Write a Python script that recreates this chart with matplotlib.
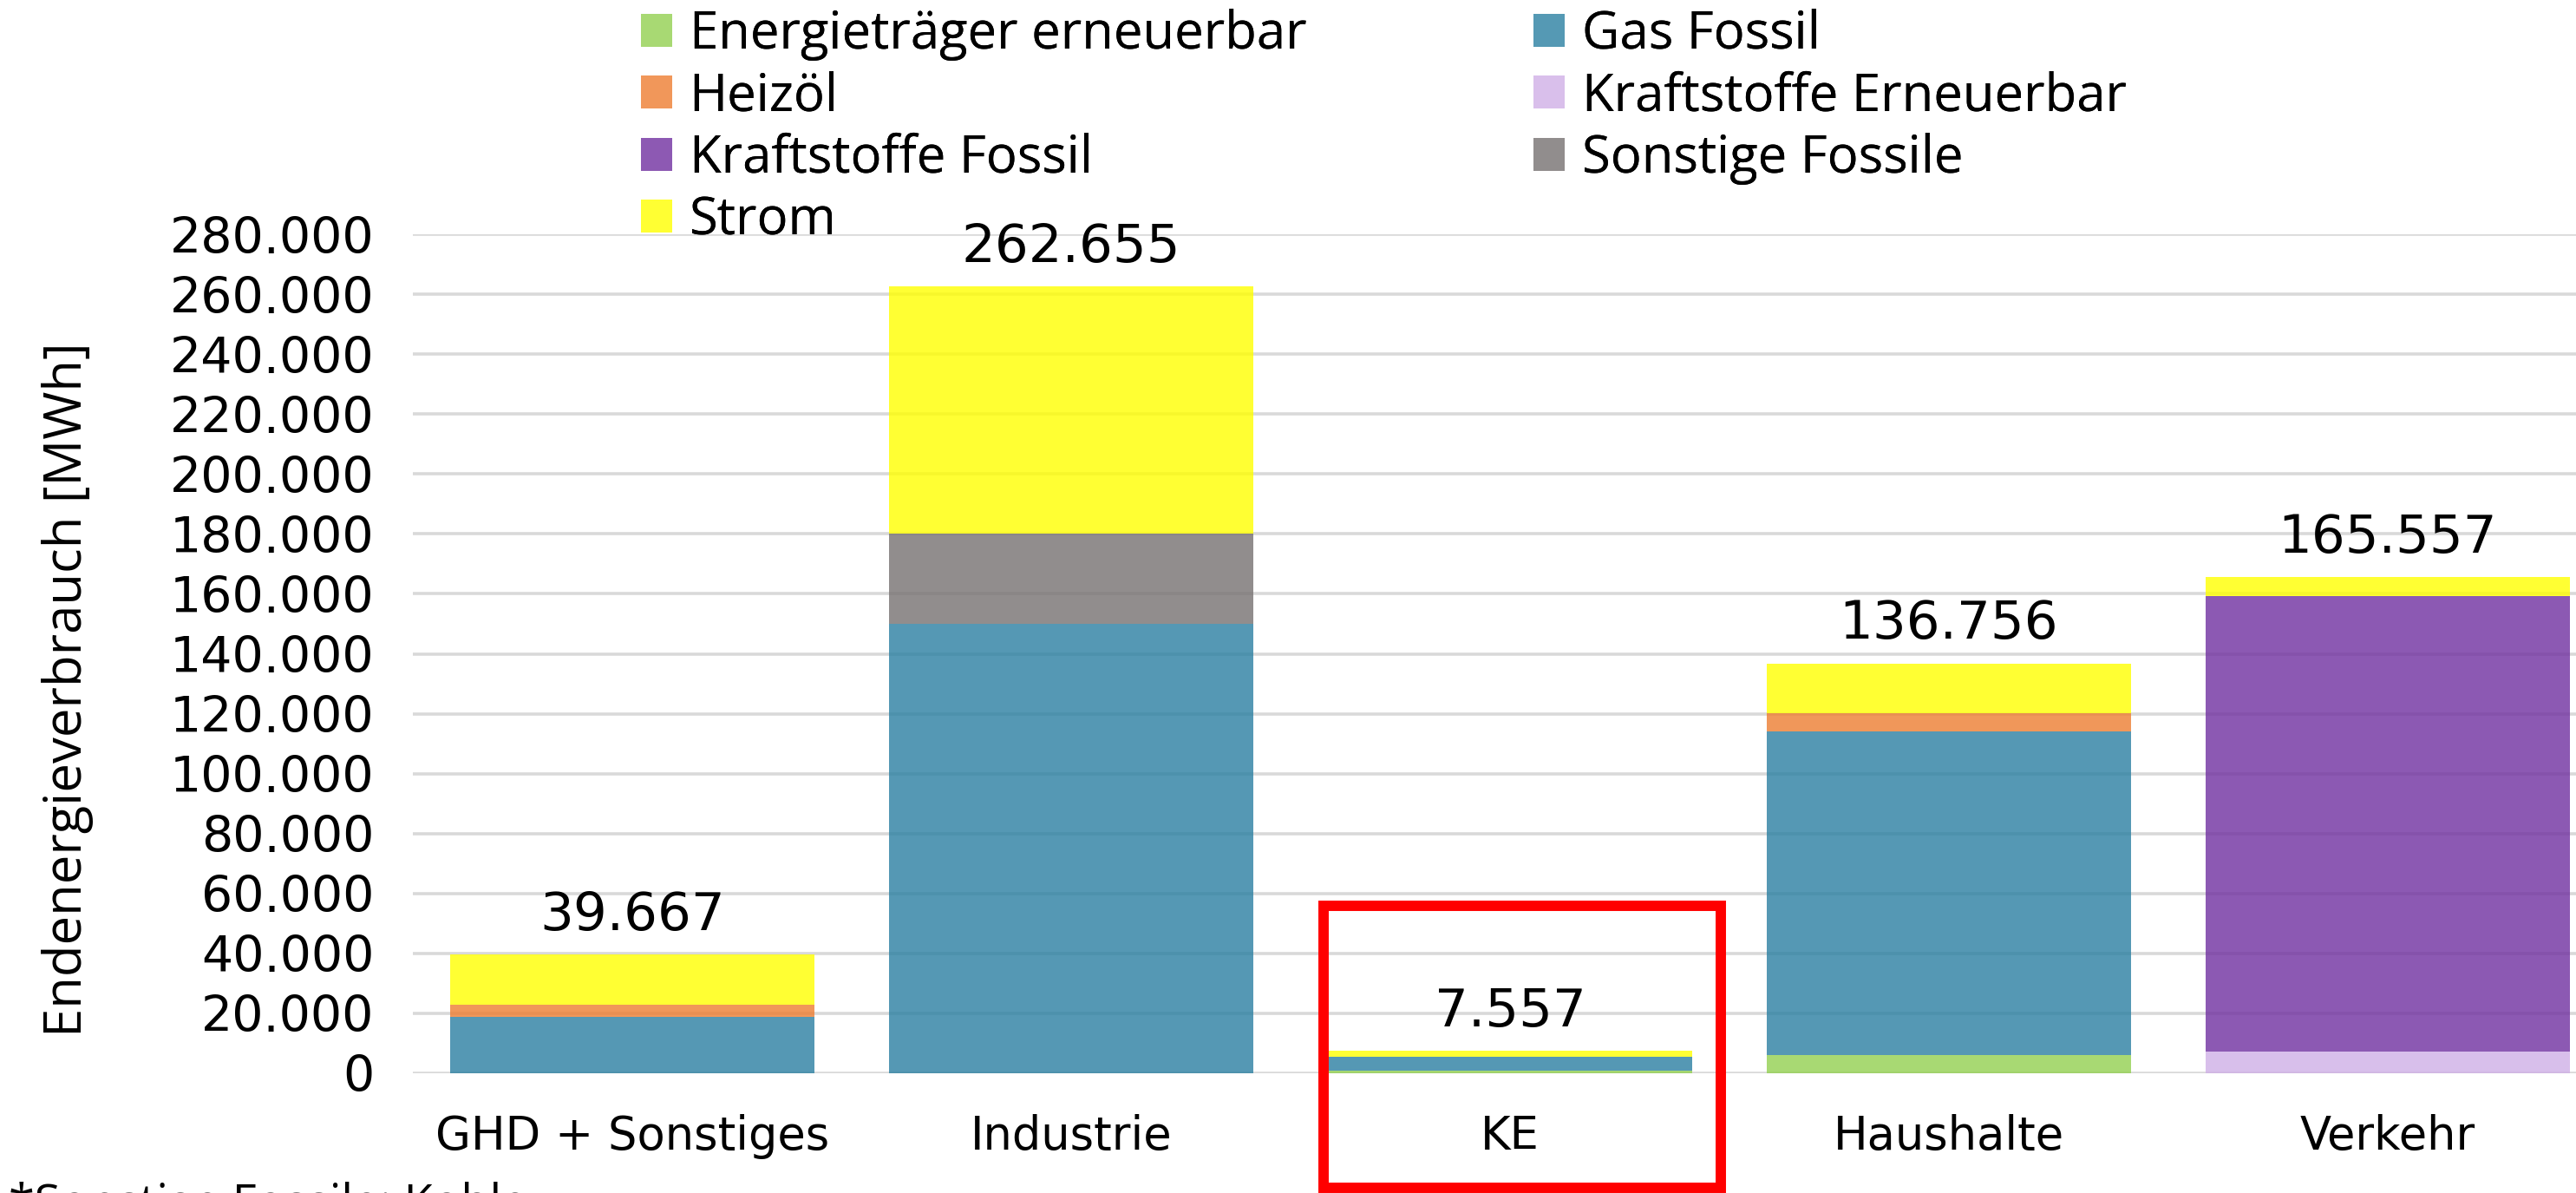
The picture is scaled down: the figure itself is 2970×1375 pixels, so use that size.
"""Endenergieverbrauch nach Sektor, gestapelt nach Energieträger.

Run ``python3 plot.py``.  Writes out.png (2970 x 1375 px).
"""
import matplotlib
matplotlib.use("Agg")
import matplotlib.pyplot as plt
from matplotlib.colors import to_rgb
from matplotlib.patches import Patch, Rectangle
import numpy as np

SECTORS = ["GHD + Sonstiges", "Industrie", "KE", "Haushalte", "Verkehr"]
CARRIERS = ["Energieträger erneuerbar", "Gas Fossil", "Heizöl",
            "Kraftstoffe Erneuerbar", "Kraftstoffe Fossil", "Sonstige Fossile",
            "Strom"]

# MWh per sector
ENERGIETRAEGER_ERNEUERBAR = [0, 0, 800, 6100, 0]
GAS_FOSSIL = [18800, 150000, 4600, 107900, 0]
HEIZOEL = [4100, 0, 0, 6100, 0]
KRAFTSTOFFE_ERNEUERBAR = [0, 0, 0, 0, 7200]
KRAFTSTOFFE_FOSSIL = [0, 0, 0, 0, 152200]
SONSTIGE_FOSSILE = [0, 30000, 0, 0, 0]
STROM = [16767, 82655, 2157, 16656, 6157]

SERIES = [ENERGIETRAEGER_ERNEUERBAR, GAS_FOSSIL, HEIZOEL, KRAFTSTOFFE_ERNEUERBAR,
          KRAFTSTOFFE_FOSSIL, SONSTIGE_FOSSILE, STROM]
COLOURS = ["#92D050", "#2A7FA1", "#ED7D31", "#CFAFE6", "#7030A0", "#767171",
           "#FFFF00"]
Y_TICKS = list(range(0, 280001, 20000))
HIGHLIGHT = "KE"
FOOTNOTE = "*Sonstige Fossile: Kohle"

W, H = 2970, 1375
ALPHA = 0.8
LEGEND_FONT = ["Open Sans", "DejaVu Sans"]


def thousands(value):
    return f"{value:,.0f}".replace(",", ".")


def on_white(colour):
    """The bar colour as it shows over white, for the legend swatches."""
    return tuple(ALPHA*c + (1 - ALPHA) for c in to_rgb(colour))


def main():
    fig = plt.figure(figsize=(W/100, H/100), dpi=100)
    ax = fig.add_axes([476/W, 1 - 1237/H, 2530/W, (1237 - 270)/H])

    positions = np.arange(len(SECTORS))
    bottom = np.zeros(len(SECTORS))
    containers = []
    for label, values, colour in zip(CARRIERS, SERIES, COLOURS):
        values = np.asarray(values, dtype=float)
        bars = ax.bar(positions, values, 0.83, bottom=bottom, color=colour,
                      alpha=ALPHA, label=label, zorder=2, linewidth=0)
        containers.append(bars)
        bottom += values

    ax.bar_label(containers[-1], labels=[thousands(t) for t in bottom],
                 padding=11, fontsize=44, color="black")

    ax.set_xlim(-0.5, len(SECTORS) - 0.5)
    ax.set_ylim(0, 280000)
    ax.set_yticks(Y_TICKS)
    ax.set_yticklabels([thousands(t) for t in Y_TICKS], fontsize=41)
    ax.set_xticks(positions)
    ax.set_xticklabels(SECTORS, fontsize=38)
    ax.tick_params(axis="both", length=0)
    ax.tick_params(axis="y", pad=32)
    ax.tick_params(axis="x", pad=34)
    ax.grid(axis="y", color="#D9D9D9", lw=2.6, zorder=0)
    ax.set_axisbelow(True)
    for spine in ax.spines.values():
        spine.set_visible(False)

    ax.set_ylabel("Endenergieverbrauch [MWh]", fontsize=43, family=LEGEND_FONT,
                  va="center")
    ax.yaxis.set_label_coords((78 - 476)/2530, (1237 - 795)/(1237 - 270))

    # red frame around the highlighted sector
    k = SECTORS.index(HIGHLIGHT)
    ax.add_patch(Rectangle((k - 0.425, -38200), 0.905, 94100, fill=False,
                           edgecolor="#FF0000", lw=8.6, clip_on=False, zorder=5))

    handles = [Patch(facecolor=on_white(c), linewidth=0) for c in COLOURS]
    columns = ([0, 2, 4, 6], [1, 3, 5])
    for anchor_x, idx in zip((739/W, 1768/W), columns):
        leg = fig.legend([handles[i] for i in idx], [CARRIERS[i] for i in idx],
                         loc="upper left", bbox_to_anchor=(anchor_x, 1 - 10/H),
                         frameon=False, borderpad=0, borderaxespad=0,
                         handlelength=0.6, handleheight=0.6,
                         handletextpad=0.33, labelspacing=0.19,
                         prop=dict(family=LEGEND_FONT, size=43))
        fig.add_artist(leg)

    fig.text(10/W, 1 - 1362/H, FOOTNOTE, fontsize=39, family=LEGEND_FONT,
             ha="left", va="top")

    fig.savefig("out.png", dpi=100)
    plt.close(fig)


if __name__ == "__main__":
    main()
